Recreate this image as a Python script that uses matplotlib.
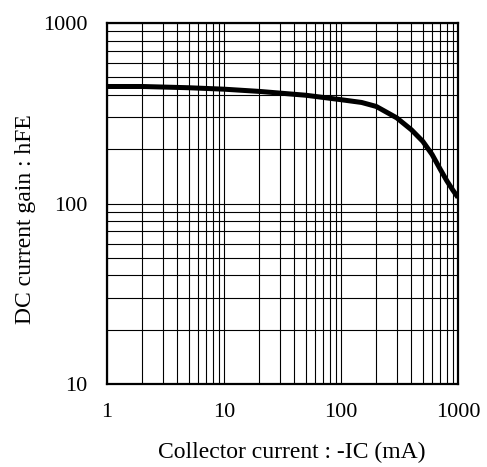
import numpy as np
import matplotlib.pyplot as plt
from matplotlib.ticker import LogLocator, FixedLocator, NullFormatter

plt.rcParams['font.family'] = ['Liberation Serif', 'DejaVu Serif']

# datos
corriente = [1, 2, 5, 10, 20, 50, 100, 150, 200, 300, 400, 500, 600, 700, 800, 900, 1000]
hfe = [445, 445, 438, 430, 418, 398, 376, 363, 345, 298, 256, 221, 187, 156, 134, 119, 108]

x_ticks = [1, 10, 100, 1000]
x_labels = ['1', '10', '100', '1000']
y_ticks = [10, 100, 1000]
y_labels = ['10', '100', '1000']

fig = plt.figure(figsize=(4.87, 4.67), dpi=100)
ax = fig.add_axes([0.2197, 0.1777, 0.7208, 0.773])

ax.plot(corriente, hfe, color='black', linewidth=3.6, solid_capstyle='butt',
        solid_joinstyle='round')

ax.set_xscale('log')
ax.set_yscale('log')
ax.set_xlim(1, 1000)
ax.set_ylim(10, 1000)

ax.xaxis.set_major_locator(FixedLocator(x_ticks))
ax.yaxis.set_major_locator(FixedLocator(y_ticks))
ax.set_xticklabels(x_labels)
ax.set_yticklabels(y_labels)
ax.xaxis.set_minor_locator(LogLocator(base=10, subs=np.arange(2, 10)))
ax.yaxis.set_minor_locator(LogLocator(base=10, subs=np.arange(2, 10)))
ax.xaxis.set_minor_formatter(NullFormatter())
ax.yaxis.set_minor_formatter(NullFormatter())

ax.grid(True, which='both', color='black', linewidth=0.8)
ax.tick_params(which='both', length=0, labelsize=16)
ax.tick_params(axis='x', pad=14)
ax.tick_params(axis='y', pad=14)

for s in ax.spines.values():
    s.set_linewidth(1.6)

ax.set_xlabel('Collector current : -IC (mA)', fontsize=17, labelpad=14)
ax.set_ylabel('DC current gain : hFE', fontsize=17, labelpad=5)
ax.xaxis.label.set_x(0.527)
ax.yaxis.label.set_y(0.457)

fig.savefig('out.png', dpi=100)
